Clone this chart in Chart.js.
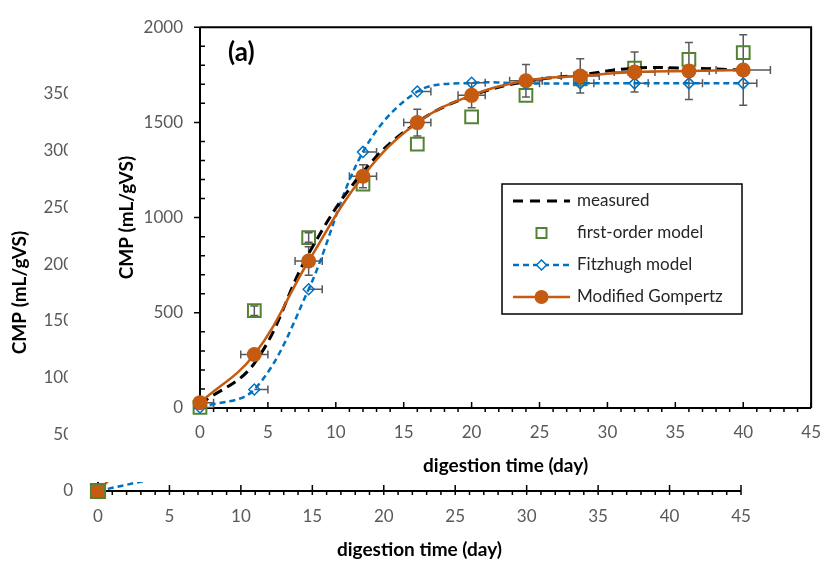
<!DOCTYPE html>
<html>
<head>
<meta charset="utf-8">
<script src="https://cdn.jsdelivr.net/npm/chart.js@4.4.1/dist/chart.umd.min.js"></script>
<style>
  html, body { margin: 0; padding: 0; background: #fff; }
  #wrap { position: relative; width: 835px; height: 561px; overflow: hidden; }
  #back { position: absolute; left: 0; top: 0; }
  #front { position: absolute; left: 68px; top: 0; background: #fff; }
</style>
</head>
<body>
<div id="wrap">
  <canvas id="back" width="835" height="561"></canvas>
  <canvas id="front" width="767" height="482"></canvas>
</div>
<script>
// front panel (a)
const days = [0, 4, 8, 12, 16, 20, 24, 28, 32, 36, 40];
const measured   = [20, 235, 810, 1240, 1500, 1640, 1715, 1750, 1785, 1785, 1775];
const firstOrder = [3, 511, 895, 1176, 1386, 1529, 1642, 1729, 1785, 1831, 1867];
const fitzhugh   = [3, 97, 624, 1345, 1662, 1708, 1705, 1705, 1705, 1705, 1705];
const gompertz   = [28, 281, 772, 1217, 1499, 1642, 1719, 1744, 1765, 1770, 1775];

// error bars
const gompXErr  = [1, 1, 1, 1, 1, 1, 1.2, 1.4, 1.5, 1.5, 2];
const gompYErr  = [0, 0, 75, 60, 70, 65, 85, 90, 105, 150, 185];
const fitzXErr  = [1, 1, 1, 1, 1, 1, 1, 1, 1, 1, 1];
const firstYErr = [0, 25, 25, 0, 0, 0, 0, 0, 0, 0, 0];

// partly hidden chart behind
const backDays = [0, 4];
const backFitzhugh = [0, 11];
const backGompertz = [0, 50];
const backFirstOrder = [0];

const xTicks = [0, 5, 10, 15, 20, 25, 30, 35, 40, 45];
const yTicksFront = [0, 500, 1000, 1500, 2000];
const yTicksBack = [0, 50, 100, 150, 200, 250, 300, 350];

const legendLabels = ['measured', 'first-order model', 'Fitzhugh model', 'Modified Gompertz'];

const FONT = 'Lato, "Open Sans", sans-serif';
const ORANGE = '#C55A11';
const BLUE = '#0070C0';
const GREEN = '#548235';
const GREY = '#595959';

const pts = (xs, ys) => xs.map((d, i) => ({ x: d, y: ys[i] }));

// axes lines + Excel-like tick marks
const axisTicks = {
  id: 'axisTicks',
  beforeDatasetsDraw(chart, args, o) {
    const { ctx, chartArea: a, scales: { x, y } } = chart;
    ctx.save();
    ctx.strokeStyle = '#000';
    ctx.lineWidth = 2;
    ctx.beginPath();
    if (o.box) {
      ctx.moveTo(a.left, a.top); ctx.lineTo(a.right, a.top); ctx.lineTo(a.right, a.bottom);
    }
    ctx.moveTo(a.left, a.top); ctx.lineTo(a.left, a.bottom); ctx.lineTo(a.right, a.bottom);
    ctx.stroke();
    ctx.lineWidth = 1.5;
    ctx.beginPath();
    for (let v = x.min; v <= x.max; v += o.xMinor) {
      const px = x.getPixelForValue(v);
      if (v % o.xMajor === 0) {
        ctx.moveTo(px, a.bottom - o.up); ctx.lineTo(px, a.bottom + o.down);
      } else {
        ctx.moveTo(px, a.bottom); ctx.lineTo(px, a.bottom + 4);
      }
    }
    for (let v = y.min; v <= y.max; v += o.yMinor) {
      const py = y.getPixelForValue(v);
      if (v % o.yMajor === 0) {
        ctx.moveTo(a.left - 6, py); ctx.lineTo(a.left, py);
      } else {
        ctx.moveTo(a.left, py); ctx.lineTo(a.left + 5, py);
      }
    }
    ctx.stroke();
    ctx.restore();
  }
};

const errorBars = {
  id: 'errorBars',
  beforeDatasetsDraw(chart, args, o) {
    if (!o.sets) return;
    const { ctx, chartArea: a, scales: { x, y } } = chart;
    ctx.save();
    ctx.beginPath();
    ctx.rect(a.left, a.top, a.width, a.height);
    ctx.clip();
    ctx.strokeStyle = GREY;
    ctx.lineWidth = 1.5;
    const cap = 4;
    o.sets.forEach(s => {
      s.xs.forEach((d, i) => {
        const px = x.getPixelForValue(d), py = y.getPixelForValue(s.ys[i]);
        ctx.beginPath();
        const xe = s.xErr ? s.xErr[i] : 0;
        if (xe) {
          const l = x.getPixelForValue(s.plusOnly ? d : d - xe);
          const r = x.getPixelForValue(d + xe);
          ctx.moveTo(l, py); ctx.lineTo(r, py);
          ctx.moveTo(r, py - cap); ctx.lineTo(r, py + cap);
          if (!s.plusOnly) { ctx.moveTo(l, py - cap); ctx.lineTo(l, py + cap); }
        }
        const ye = s.yErr ? s.yErr[i] : 0;
        if (ye) {
          const t = y.getPixelForValue(s.ys[i] + ye), b = y.getPixelForValue(s.ys[i] - ye);
          ctx.moveTo(px, t); ctx.lineTo(px, b);
          ctx.moveTo(px - cap, t); ctx.lineTo(px + cap, t);
          ctx.moveTo(px - cap, b); ctx.lineTo(px + cap, b);
        }
        ctx.stroke();
      });
    });
    ctx.restore();
  }
};

// boxed legend inside the plot + panel letter
const boxLegend = {
  id: 'boxLegend',
  afterDraw(chart, args, o) {
    if (!o.show) return;
    const { ctx } = chart;
    const L = 434, T = 184, R = 674, B = 314;
    ctx.save();
    ctx.fillStyle = '#fff';
    ctx.fillRect(L, T, R - L, B - T);
    ctx.strokeStyle = '#000';
    ctx.lineWidth = 1.5;
    ctx.strokeRect(L, T, R - L, B - T);
    const rows = [201, 233, 265, 297];
    const s0 = 445, s1 = 502, sc = (s0 + s1) / 2, tx = 509;
    ctx.font = '17px ' + FONT;
    ctx.textBaseline = 'middle';
    ctx.fillStyle = '#262626';
    legendLabels.forEach((t, i) => ctx.fillText(t, tx, rows[i]));
    // measured
    ctx.strokeStyle = '#000'; ctx.lineWidth = 3; ctx.setLineDash([10, 7]);
    ctx.beginPath(); ctx.moveTo(s0, rows[0]); ctx.lineTo(s1, rows[0]); ctx.stroke();
    // first order
    ctx.setLineDash([]); ctx.strokeStyle = GREEN; ctx.lineWidth = 2;
    ctx.strokeRect(sc - 5, rows[1] - 5, 10, 10);
    // fitzhugh
    ctx.strokeStyle = BLUE; ctx.lineWidth = 2.5; ctx.setLineDash([6, 4]);
    ctx.beginPath(); ctx.moveTo(s0, rows[2]); ctx.lineTo(s1, rows[2]); ctx.stroke();
    ctx.setLineDash([]); ctx.lineWidth = 1.5; ctx.fillStyle = '#fff';
    ctx.beginPath();
    ctx.moveTo(sc - 5, rows[2]); ctx.lineTo(sc, rows[2] - 5); ctx.lineTo(sc + 5, rows[2]); ctx.lineTo(sc, rows[2] + 5);
    ctx.closePath(); ctx.fill(); ctx.stroke();
    // gompertz
    ctx.strokeStyle = ORANGE; ctx.lineWidth = 2.5;
    ctx.beginPath(); ctx.moveTo(s0, rows[3]); ctx.lineTo(s1, rows[3]); ctx.stroke();
    ctx.fillStyle = ORANGE;
    ctx.beginPath(); ctx.arc(sc, rows[3], 7, 0, Math.PI * 2); ctx.fill();
    // panel letter
    ctx.fillStyle = '#000';
    ctx.font = 'bold 26px ' + FONT;
    ctx.fillText('(a)', 160, 53);
    ctx.restore();
  }
};

const fitAxis = (w, h) => s => {
  if (w !== undefined) s.width = w;
  if (h !== undefined) s.height = h;
};

function scales(yTicks, yMax, opt) {
  return {
    x: {
      type: 'linear', min: 0, max: 45,
      afterFit: fitAxis(undefined, opt.xh),
      afterBuildTicks: s => { s.ticks = xTicks.map(v => ({ value: v })); },
      grid: { display: false, drawTicks: false },
      border: { display: false },
      ticks: { color: GREY, font: { family: FONT, size: 17 }, padding: opt.xPad, maxRotation: 0,
               callback: v => String(v) },
      title: { display: true, text: 'digestion time (day)', color: '#000',
               font: { family: FONT, size: 19, weight: 'bold' }, padding: { top: 0, bottom: opt.xTitlePad } }
    },
    y: {
      type: 'linear', min: 0, max: yMax,
      afterFit: fitAxis(opt.yw),
      afterBuildTicks: s => { s.ticks = yTicks.map(v => ({ value: v })); },
      grid: { display: false, drawTicks: false },
      border: { display: false },
      ticks: { color: GREY, font: { family: FONT, size: 17 }, padding: opt.yPad, callback: v => String(v) },
      title: { display: true, text: 'CMP (mL/gVS)', color: '#000',
               font: { family: FONT, size: 19, weight: 'bold' }, padding: { top: opt.yTitlePad, bottom: 0 } }
    }
  };
}

// chart behind
new Chart(document.getElementById('back'), {
  type: 'scatter',
  data: {
    datasets: [
      { data: pts(backDays.slice(0, 1), backFirstOrder), showLine: false, pointStyle: 'rect', clip: false,
        pointRadius: 10, borderColor: GREEN, borderWidth: 2, backgroundColor: 'rgba(0,0,0,0)' },
      { data: pts(backDays.slice(0, 1), [backGompertz[0]]), showLine: false, pointStyle: 'rect', clip: false,
        pointRadius: 9, borderWidth: 0, backgroundColor: ORANGE },
      { data: pts(backDays, backGompertz), showLine: true, pointRadius: 0, borderColor: ORANGE, borderWidth: 2.5 },
      { data: pts(backDays, backFitzhugh), showLine: true, pointRadius: 0, borderColor: BLUE,
        borderWidth: 2.5, borderDash: [6, 4] }
    ]
  },
  options: {
    responsive: false, animation: false, devicePixelRatio: 1,
    layout: { padding: { left: 0, top: 94, right: 94, bottom: 0 } },
    plugins: {
      legend: { display: false }, tooltip: { enabled: false },
      axisTicks: { xMinor: 1, xMajor: 5, yMinor: 10, yMajor: 50, up: 6, down: 4, box: false }
    },
    scales: scales(yTicksBack, 350, { xh: 70, yw: 98, xPad: 15, yPad: 25, xTitlePad: 0, yTitlePad: 8 })
  },
  plugins: [axisTicks]
});

// front chart
new Chart(document.getElementById('front'), {
  type: 'scatter',
  data: {
    datasets: [
      { label: 'Modified Gompertz', data: pts(days, gompertz), showLine: true, tension: 0.4, clip: false,
        borderColor: ORANGE, borderWidth: 2.5, pointRadius: 7.5, pointBackgroundColor: ORANGE,
        pointBorderWidth: 0 },
      { label: 'measured', data: pts(days, measured), showLine: true, tension: 0.4,
        borderColor: '#000', borderWidth: 3, borderDash: [10, 6], pointRadius: 0 },
      { label: 'Fitzhugh model', data: pts(days, fitzhugh), showLine: true, tension: 0.35, clip: false,
        borderColor: BLUE, borderWidth: 2.5, borderDash: [6, 4], pointStyle: 'rectRot',
        pointRadius: 5.5, pointBorderColor: BLUE, pointBorderWidth: 1.5, pointBackgroundColor: 'rgba(0,0,0,0)' },
      { label: 'first-order model', data: pts(days, firstOrder), showLine: false, pointStyle: 'rect', clip: false,
        pointRadius: 9, pointBorderColor: GREEN, pointBorderWidth: 2, pointBackgroundColor: 'rgba(0,0,0,0)' }
    ]
  },
  options: {
    responsive: false, animation: false, devicePixelRatio: 1,
    layout: { padding: { left: 0, top: 17, right: 12, bottom: 0 } },
    plugins: {
      legend: { display: false }, tooltip: { enabled: false },
      axisTicks: { xMinor: 1, xMajor: 5, yMinor: 100, yMajor: 500, up: 6, down: 0, box: true },
      errorBars: { sets: [
        { xs: days, ys: gompertz, xErr: gompXErr, yErr: gompYErr },
        { xs: days, ys: fitzhugh, xErr: fitzXErr, plusOnly: true },
        { xs: days, ys: firstOrder, yErr: firstYErr }
      ] },
      boxLegend: { show: true }
    },
    scales: scales(yTicksFront, 2000, { xh: 74, yw: 132, xPad: 14, yPad: 17, xTitlePad: 5, yTitlePad: 47 })
  },
  plugins: [axisTicks, errorBars, boxLegend]
});
</script>
</body>
</html>
